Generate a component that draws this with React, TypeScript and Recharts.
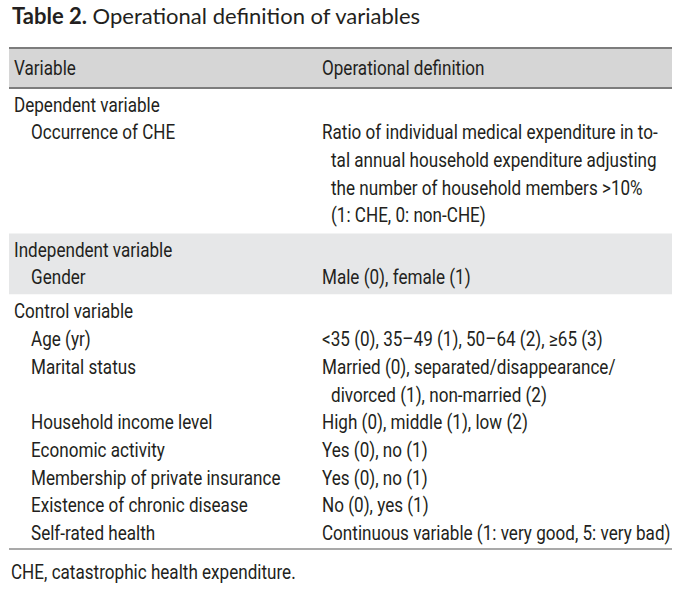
import { ScatterChart, Scatter, XAxis, YAxis, ReferenceArea, ReferenceLine } from 'recharts';

// table content
const titleLabel = 'Table 2.';
const titleText = 'Operational definition of variables';
const columnHeaders = ['Variable', 'Operational definition'];
const sectionTitles = ['Dependent variable', 'Independent variable', 'Control variable'];
const variableNames = [
  'Occurrence of CHE',
  'Gender',
  'Age (yr)',
  'Marital status',
  'Household income level',
  'Economic activity',
  'Membership of private insurance',
  'Existence of chronic disease',
  'Self-rated health',
];
const variableSection = [0, 1, 2, 2, 2, 2, 2, 2, 2];
const definitionLines = [
  [
    'Ratio of individual medical expenditure in to-',
    'tal annual household expenditure adjusting',
    'the number of household members >10%',
    '(1: CHE, 0: non-CHE)',
  ],
  ['Male (0), female (1)'],
  ['<35 (0), 35\u201349 (1), 50\u201364 (2),  \u226565 (3)'],
  ['Married (0), separated/disappearance/', 'divorced (1), non-married (2)'],
  ['High (0), middle (1), low (2)'],
  ['Yes (0), no (1)'],
  ['Yes (0), no (1)'],
  ['No (0), yes (1)'],
  ['Continuous variable (1: very good, 5: very bad)'],
];
const shadedSections = [1];
const footnote = 'CHE, catastrophic health expenditure.';

const W = 691;
const H = 593;
const TABLE_LEFT = 9;
const TABLE_RIGHT = 672;
const COL_X = [14, 322];
const INDENT = [17, 9];
const FIRST_LINE = 104.5;
const PITCH = 27.7;
const SECTION_GAP = 6.5;
const TEXT = '#231f20';
const FONT = 'Roboto, sans-serif';
const SQUEEZE = 0.855; // the original uses a condensed face

type Line = { x: number; y: number; text: string; kind: string };

function buildLines() {
  const lines: Line[] = [];
  const sectionSpan: { top: number; bottom: number }[] = [];
  let idx = 0;
  const yOf = (i: number, s: number) => FIRST_LINE + i * PITCH + s * SECTION_GAP;
  sectionTitles.forEach((title, s) => {
    const top = yOf(idx, s);
    lines.push({ x: COL_X[0], y: top, text: title, kind: 'body' });
    idx++;
    variableNames.forEach((name, v) => {
      if (variableSection[v] !== s) return;
      lines.push({ x: COL_X[0] + INDENT[0], y: yOf(idx, s), text: name, kind: 'body' });
      definitionLines[v].forEach((d, k) => {
        lines.push({ x: COL_X[1] + (k > 0 ? INDENT[1] : 0), y: yOf(idx, s), text: d, kind: 'body' });
        idx++;
      });
    });
    sectionSpan.push({ top, bottom: yOf(idx - 1, s) });
  });
  lines.push({ x: COL_X[0], y: 68, text: columnHeaders[0], kind: 'body' });
  lines.push({ x: COL_X[1], y: 68, text: columnHeaders[1], kind: 'body' });
  lines.push({ x: 12, y: 16, text: titleText, kind: 'title' });
  lines.push({ x: 11, y: 572, text: footnote, kind: 'body' });
  return { lines, sectionSpan };
}

const TextShape = (props: any) => {
  const { cx, cy, payload } = props;
  if (payload.kind === 'title') {
    return (
      <text x={cx} y={cy + 8} fill={TEXT} fontFamily="Lato, 'Noto Sans', sans-serif" fontSize={22}>
        <tspan fontWeight={700}>{titleLabel}</tspan>
        <tspan> {payload.text}</tspan>
      </text>
    );
  }
  return (
    <text
      x={0}
      y={0}
      transform={`translate(${cx} ${cy + 7}) scale(${SQUEEZE} 1)`}
      fill={TEXT}
      fontFamily={FONT}
      fontSize={20}
    >
      {payload.text}
    </text>
  );
};

export default function App() {
  const { lines, sectionSpan } = buildLines();
  return (
    <div style={{ position: 'absolute', left: 0, top: 0, background: '#fff' }}>
      <ScatterChart width={W} height={H} margin={{ top: 0, right: 0, bottom: 0, left: 0 }}>
        <XAxis type="number" dataKey="x" domain={[0, W]} hide />
        <YAxis type="number" dataKey="y" domain={[0, H]} reversed hide />
        <ReferenceArea x1={TABLE_LEFT} x2={TABLE_RIGHT} y1={48} y2={88} fill="#d6d6d6" fillOpacity={1} stroke="none" />
        {shadedSections.map((s) => (
          <ReferenceArea
            key={s}
            x1={TABLE_LEFT}
            x2={TABLE_RIGHT}
            y1={sectionSpan[s].top - 16}
            y2={sectionSpan[s].bottom + 17}
            fill="#e6e7e8"
            fillOpacity={1}
            stroke="none"
          />
        ))}
        <ReferenceLine segment={[{ x: TABLE_LEFT, y: 48 }, { x: TABLE_RIGHT, y: 48 }]} stroke="#7d7d7d" strokeWidth={2} />
        <ReferenceLine segment={[{ x: TABLE_LEFT, y: 88 }, { x: TABLE_RIGHT, y: 88 }]} stroke="#7d7d7d" strokeWidth={2} />
        <ReferenceLine segment={[{ x: TABLE_LEFT, y: 549 }, { x: TABLE_RIGHT, y: 549 }]} stroke="#8c8c8c" strokeWidth={1.5} />
        <Scatter data={lines} shape={TextShape} isAnimationActive={false} />
      </ScatterChart>
    </div>
  );
}
